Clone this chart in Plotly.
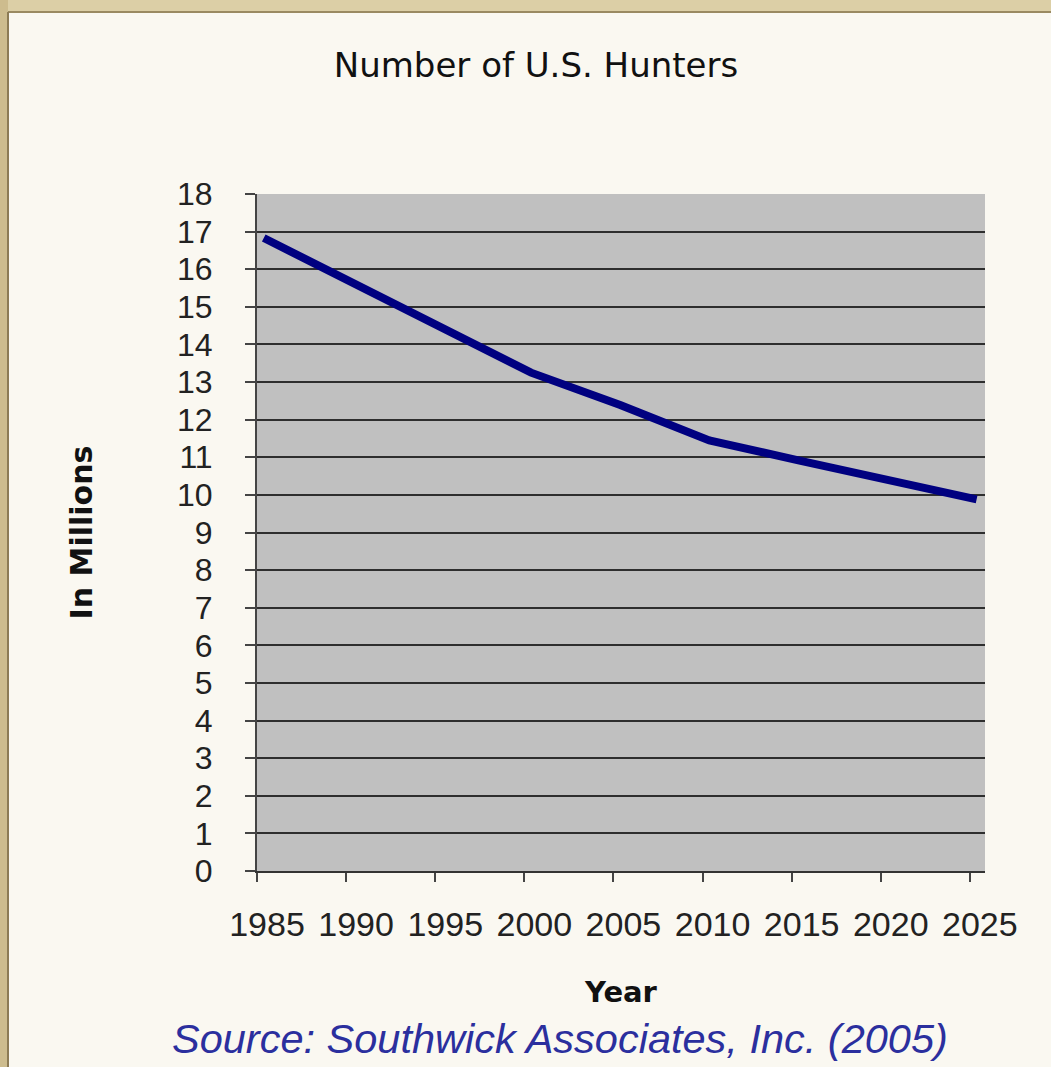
import plotly.graph_objects as go

# Data
years = [1985, 1990, 1995, 2000, 2005, 2010, 2015, 2020, 2025]
hunters_millions = [16.83, 15.65, 14.46, 13.25, 12.39, 11.45, 10.92, 10.40, 9.88]
x_tick_labels = ["1985", "1990", "1995", "2000", "2005", "2010", "2015", "2020", "2025"]
y_ticks = list(range(0, 19))

title_text = "Number of U.S. Hunters"
y_title = "In Millions"
x_title = "Year"
source_text = "Source: Southwick Associates, Inc. (2005)"

W, H = 1051, 1067
L, R, T, B = 257, 66, 194, 196
PW, PH = W - L - R, H - T - B

fig = go.Figure()
# empty trace registers the main (labelled) x axis subplot
fig.add_trace(go.Scatter(x=[], y=[], xaxis="x", yaxis="y", showlegend=False, hoverinfo="skip"))
fig.add_trace(go.Scatter(
    x=years, y=hunters_millions, mode="lines",
    line=dict(color="#000080", width=8),
    xaxis="x2", yaxis="y", showlegend=False, hoverinfo="x+y",
))

x_min, x_max = 1985, 2025.85
shift = 0.38

fig.update_layout(
    width=W, height=H,
    margin=dict(l=L, r=R, t=T, b=B, pad=0),
    paper_bgcolor="#FAF8F1",
    plot_bgcolor="#C0C0C0",
    showlegend=False,
    title=dict(
        text=title_text,
        font=dict(family="DejaVu Sans", size=34, color="#111111"),
        x=(536 - L) / PW, xref="paper", xanchor="center",
        y=1 - 65 / H, yref="container", yanchor="middle",
    ),
    xaxis=dict(
        range=[x_min, x_max],
        tickvals=years, ticktext=x_tick_labels,
        ticks="outside", ticklen=9, tickwidth=1.5, tickcolor="#444444",
        ticklabelshift=10, ticklabelstandoff=13,
        tickfont=dict(family="Liberation Sans", size=34, color="#222222"),
        showgrid=False, zeroline=False,
        showline=True, linecolor="#333333", linewidth=2,
        title=dict(text=x_title, standoff=40,
                   font=dict(family="DejaVu Sans", size=29, color="#111111", weight="bold")),
        fixedrange=True,
    ),
    xaxis2=dict(
        range=[x_min - shift, x_max - shift],
        overlaying="x", visible=False, fixedrange=True,
    ),
    yaxis=dict(
        range=[0, 18],
        tickvals=y_ticks,
        ticks="outside", ticklen=10, tickwidth=1.5, tickcolor="#444444",
        ticklabelstandoff=26,
        tickfont=dict(family="Liberation Sans", size=32, color="#222222"),
        showgrid=True, gridcolor="#2E2E2E", gridwidth=2,
        zeroline=False,
        showline=True, linecolor="#444444", linewidth=2,
        title=dict(text=y_title, standoff=76,
                   font=dict(family="DejaVu Sans", size=30, color="#111111", weight="bold")),
        fixedrange=True,
    ),
)

# Source note
fig.add_annotation(
    text=source_text, showarrow=False,
    xref="paper", yref="paper",
    x=(560 - L) / PW, y=(H - B - 1038) / PH,
    xanchor="center", yanchor="middle",
    font=dict(family="Liberation Sans", size=41.5, color="#2B2F9E", style="italic"),
)

# Frame decoration (top and left beveled border)
fig.add_shape(type="rect", xref="paper", yref="paper", layer="above",
              xsizemode="pixel", ysizemode="pixel", xanchor=0, yanchor=1,
              x0=-L, x1=W - L, y0=T, y1=T - 12,
              fillcolor="#DCCFA6", line=dict(width=0))
fig.add_shape(type="line", xref="paper", yref="paper", layer="above",
              xsizemode="pixel", ysizemode="pixel", xanchor=0, yanchor=1,
              x0=-L + 8, x1=W - L, y0=T - 12, y1=T - 12,
              line=dict(color="#9A8A62", width=2))
fig.add_shape(type="rect", xref="paper", yref="paper", layer="above",
              xsizemode="pixel", ysizemode="pixel", xanchor=0, yanchor=1,
              x0=-L, x1=-L + 8, y0=T, y1=T - H,
              fillcolor="#CDBC8E", line=dict(width=0))
fig.add_shape(type="line", xref="paper", yref="paper", layer="above",
              xsizemode="pixel", ysizemode="pixel", xanchor=0, yanchor=1,
              x0=-L + 8, x1=-L + 8, y0=T - 12, y1=T - H,
              line=dict(color="#8C7B55", width=2))

fig.write_html(
    "out.html",
    config={"displayModeBar": False},
    post_script="document.body.style.margin='0';document.body.style.overflow='hidden';",
)
